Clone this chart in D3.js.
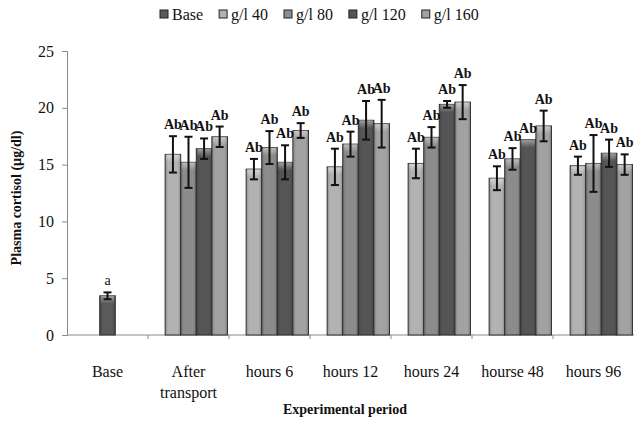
<!DOCTYPE html>
<html>
<head>
<meta charset="utf-8">
<script src="https://cdn.jsdelivr.net/npm/d3@7"></script>
<style>
  body { margin: 0; background: #fff; }
  text { font-family: "Liberation Serif", "Times New Roman", serif; fill: #111; }
</style>
</head>
<body>
<svg id="chart" width="634" height="424"></svg>
<script>
const categories = ["Base", "After transport", "hours 6", "hours 12", "hours 24", "hourse 48", "hours 96"];
const seriesNames = ["Base", "g/l 40", "g/l 80", "g/l 120", "g/l 160"];
const seriesColors = ["#5a5a5a", "#b2b2b2", "#8c8c8c", "#555555", "#a2a2a2"];

const baseMean = [3.45, null, null, null, null, null, null];
const baseErr = [0.3, null, null, null, null, null, null];
const gl40 = [null, 15.9, 14.6, 14.8, 15.1, 13.8, 14.9];
const gl40Err = [null, 1.6, 0.9, 1.6, 1.3, 1.05, 0.8];
const gl80 = [null, 15.2, 16.5, 16.8, 17.4, 15.5, 15.1];
const gl80Err = [null, 2.25, 1.45, 1.1, 0.9, 0.95, 2.5];
const gl120 = [null, 16.4, 15.2, 18.9, 20.3, 17.2, 16.0];
const gl120Err = [null, 0.9, 1.5, 1.7, 0.3, 0, 1.2];
const gl160 = [null, 17.45, 18.0, 18.6, 20.5, 18.4, 15.0];
const gl160Err = [null, 0.9, 0.65, 2.1, 1.5, 1.35, 0.9];
const letters = ["a", "Ab", "Ab", "Ab", "Ab", "Ab", "Ab"];
const yTicks = [0, 5, 10, 15, 20, 25];

const svg = d3.select("#chart");
const mLeft = 67, mRight = 634, mTop = 51, mBottom = 335;

const means = [baseMean, gl40, gl80, gl120, gl160];
const errs = [baseErr, gl40Err, gl80Err, gl120Err, gl160Err];

const bars = [];
categories.forEach((c, i) => {
  seriesNames.forEach((s, j) => {
    if (means[j][i] != null) bars.push({ cat: c, series: s, j, value: means[j][i], err: errs[j][i], label: letters[i] });
  });
});

const x = d3.scaleBand().domain(categories).range([mLeft, mRight]).padding(0);
const xs = d3.scaleBand().domain(seriesNames).range([0, x.bandwidth()]).paddingInner(0).paddingOuter(0.1);
const y = d3.scaleLinear().domain([0, 25]).range([mBottom, mTop]);

function barX(d) {
  // the Base category shows a single bar centred in its band
  if (d.cat === "Base") return x(d.cat) + x.bandwidth() / 2 - xs.bandwidth() / 2;
  return x(d.cat) + xs(d.series);
}

// gradients for the soft shaded bars
const defs = svg.append("defs");
seriesColors.forEach((col, j) => {
  const c = d3.color(col);
  const g = defs.append("linearGradient").attr("id", "grad" + j)
    .attr("x1", "0%").attr("x2", "100%").attr("y1", "0%").attr("y2", "0%");
  g.append("stop").attr("offset", "0%").attr("stop-color", c.darker(0.6));
  g.append("stop").attr("offset", "20%").attr("stop-color", c);
  g.append("stop").attr("offset", "80%").attr("stop-color", c);
  g.append("stop").attr("offset", "100%").attr("stop-color", c.darker(0.6));
});
const capGrad = defs.append("linearGradient").attr("id", "cap")
  .attr("x1", "0%").attr("x2", "0%").attr("y1", "0%").attr("y2", "100%");
capGrad.append("stop").attr("offset", "0%").attr("stop-color", "#fff").attr("stop-opacity", 0.45);
capGrad.append("stop").attr("offset", "100%").attr("stop-color", "#fff").attr("stop-opacity", 0);

// y axis
const yAxis = svg.append("g").attr("transform", `translate(${mLeft},0)`)
  .call(d3.axisLeft(y).tickValues(yTicks).tickSize(5).tickPadding(8));
yAxis.select(".domain").attr("stroke", "#8a8a8a");
yAxis.selectAll(".tick line").attr("stroke", "#8a8a8a");
yAxis.selectAll(".tick text").style("font-size", "16px").attr("fill", "#111");

// x axis line and ticks at band boundaries
const xAxis = svg.append("g").attr("transform", `translate(0,${mBottom})`);
xAxis.append("line").attr("x1", mLeft).attr("x2", mRight).attr("stroke", "#8a8a8a");
xAxis.selectAll("line.tk")
  .data(categories.slice(1))
  .join("line").attr("class", "tk")
  .attr("x1", d => x(d)).attr("x2", d => x(d))
  .attr("y1", 0).attr("y2", 4).attr("stroke", "#8a8a8a");

const catText = xAxis.selectAll("text.cat")
  .data(categories)
  .join("text").attr("class", "cat")
  .attr("x", d => x(d) + x.bandwidth() / 2)
  .attr("y", 42)
  .attr("text-anchor", "middle")
  .style("font-size", "16px");
catText.each(function(d) {
  const t = d3.select(this);
  const parts = d === "After transport" ? ["After", "transport"] : [d];
  parts.forEach((p, k) => t.append("tspan").attr("x", x(d) + x.bandwidth() / 2).attr("dy", k ? 21 : 0).text(p));
});

// bars
svg.append("g").selectAll("rect.bar")
  .data(bars)
  .join("rect").attr("class", "bar")
  .attr("x", barX)
  .attr("y", d => y(d.value))
  .attr("width", xs.bandwidth())
  .attr("height", d => mBottom - y(d.value))
  .attr("fill", d => `url(#grad${d.j})`)
  .attr("stroke", "#2e2e2e")
  .attr("stroke-width", 1);

svg.append("g").selectAll("rect.cap")
  .data(bars)
  .join("rect").attr("class", "cap")
  .attr("x", d => barX(d) + 1)
  .attr("y", d => y(d.value))
  .attr("width", xs.bandwidth() - 2)
  .attr("height", 8)
  .attr("fill", "url(#cap)");

// error bars
const eb = svg.append("g").selectAll("g.err")
  .data(bars.filter(d => d.err > 0))
  .join("g").attr("class", "err")
  .attr("stroke", "#111").attr("stroke-width", 2);
const cx = d => barX(d) + xs.bandwidth() / 2;
eb.append("line").attr("x1", cx).attr("x2", cx)
  .attr("y1", d => y(d.value + d.err)).attr("y2", d => y(d.value - d.err));
eb.append("line").attr("x1", d => cx(d) - 4).attr("x2", d => cx(d) + 4)
  .attr("y1", d => y(d.value + d.err)).attr("y2", d => y(d.value + d.err));
eb.append("line").attr("x1", d => cx(d) - 4).attr("x2", d => cx(d) + 4)
  .attr("y1", d => y(d.value - d.err)).attr("y2", d => y(d.value - d.err));

// letters
svg.append("g").selectAll("text.lbl")
  .data(bars)
  .join("text").attr("class", "lbl")
  .attr("x", d => cx(d))
  .attr("y", d => y(d.value + d.err) - 7)
  .attr("text-anchor", "middle")
  .style("font-size", "14px")
  .style("font-weight", d => d.label === "a" ? "normal" : "bold")
  .text(d => d.label);

// axis titles
svg.append("text")
  .attr("transform", `translate(21,${(mTop + mBottom) / 2 + 5}) rotate(-90)`)
  .attr("text-anchor", "middle")
  .style("font-size", "14px").style("font-weight", "bold")
  .text("Plasma cortisol (µg/dl)");

svg.append("text")
  .attr("x", 345).attr("y", 414)
  .attr("text-anchor", "middle")
  .style("font-size", "14px").style("font-weight", "bold")
  .text("Experimental period");

// legend
const legend = svg.append("g").attr("transform", "translate(160,20)");
let lx = 0;
seriesNames.forEach((s, j) => {
  const item = legend.append("g").attr("transform", `translate(${lx},0)`);
  item.append("rect").attr("x", 0).attr("y", -10).attr("width", 8).attr("height", 8)
    .attr("fill", seriesColors[j]).attr("stroke", "#222");
  const t = item.append("text").attr("x", 12).attr("y", 0).style("font-size", "16px").text(s);
  lx += 12 + t.node().getComputedTextLength() + 16;
});
</script>
</body>
</html>
